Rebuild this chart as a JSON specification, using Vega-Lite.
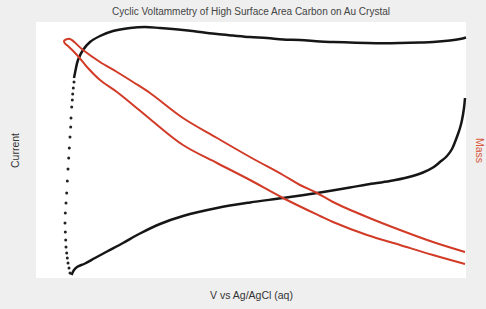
{
  "$schema": "https://vega.github.io/schema/vega-lite/v6.json",
  "autosize": {"type": "none"},
  "width": 430,
  "height": 256,
  "padding": {"left": 36, "top": 22, "right": 20, "bottom": 31},
  "background": "#efefef",
  "title": {"text": "Cyclic Voltammetry of High Surface Area Carbon on Au Crystal", "fontSize": 10, "font": "Liberation Sans", "fontWeight": "normal", "color": "#444444", "offset": 5},
  "config": {
    "view": {"fill": "#ffffff", "stroke": null},
    "axis": {"domain": false, "ticks": false, "labels": false, "grid": false, "titleFont": "Liberation Sans", "titleFontSize": 10.5, "titleFontWeight": "normal", "titleColor": "#333333"}
  },
  "datasets": {
    "current": [
      {"seg": "c", "k": 1, "v": 429, "current": 180},
      {"seg": "c", "k": 2, "v": 428, "current": 170},
      {"seg": "c", "k": 3, "v": 426, "current": 158},
      {"seg": "c", "k": 4, "v": 424, "current": 150},
      {"seg": "c", "k": 5, "v": 422, "current": 144},
      {"seg": "c", "k": 6, "v": 419, "current": 136},
      {"seg": "c", "k": 7, "v": 416, "current": 129},
      {"seg": "c", "k": 8, "v": 411, "current": 122},
      {"seg": "c", "k": 9, "v": 404, "current": 116},
      {"seg": "c", "k": 10, "v": 397, "current": 110.5},
      {"seg": "c", "k": 11, "v": 387, "current": 105.5},
      {"seg": "c", "k": 12, "v": 371, "current": 100.5},
      {"seg": "c", "k": 13, "v": 354, "current": 97},
      {"seg": "c", "k": 14, "v": 331, "current": 93.5},
      {"seg": "c", "k": 15, "v": 314, "current": 90.5},
      {"seg": "c", "k": 16, "v": 281, "current": 85},
      {"seg": "c", "k": 17, "v": 247, "current": 80},
      {"seg": "c", "k": 18, "v": 214, "current": 75.5},
      {"seg": "c", "k": 19, "v": 181, "current": 70},
      {"seg": "c", "k": 20, "v": 147, "current": 62},
      {"seg": "c", "k": 21, "v": 124, "current": 54},
      {"seg": "c", "k": 22, "v": 104, "current": 44.5},
      {"seg": "c", "k": 23, "v": 87, "current": 35},
      {"seg": "c", "k": 24, "v": 71, "current": 26.5},
      {"seg": "c", "k": 25, "v": 59, "current": 20},
      {"seg": "c", "k": 26, "v": 49, "current": 14.5},
      {"seg": "c", "k": 27, "v": 41, "current": 11},
      {"seg": "c", "k": 28, "v": 38, "current": 8},
      {"seg": "c", "k": 29, "v": 35.5, "current": 3},
      {"seg": "j", "k": 32, "v": 34, "current": 5},
      {"seg": "j", "k": 33, "v": 33, "current": 10},
      {"seg": "j", "k": 34, "v": 32, "current": 15},
      {"seg": "j", "k": 35, "v": 31.3, "current": 20},
      {"seg": "j", "k": 36, "v": 30.7, "current": 25},
      {"seg": "j", "k": 37, "v": 30, "current": 31},
      {"seg": "j", "k": 38, "v": 29.7, "current": 38},
      {"seg": "j", "k": 39, "v": 29.3, "current": 46},
      {"seg": "j", "k": 40, "v": 29, "current": 55},
      {"seg": "j", "k": 41, "v": 29.3, "current": 65},
      {"seg": "j", "k": 42, "v": 30, "current": 75},
      {"seg": "j", "k": 43, "v": 30.7, "current": 85},
      {"seg": "j", "k": 44, "v": 31.3, "current": 97},
      {"seg": "j", "k": 45, "v": 32, "current": 109},
      {"seg": "j", "k": 46, "v": 32.7, "current": 120},
      {"seg": "j", "k": 47, "v": 33.3, "current": 130},
      {"seg": "j", "k": 48, "v": 34, "current": 141},
      {"seg": "j", "k": 49, "v": 34.7, "current": 151},
      {"seg": "j", "k": 50, "v": 35, "current": 160},
      {"seg": "j", "k": 51, "v": 35.7, "current": 171},
      {"seg": "j", "k": 52, "v": 36.3, "current": 178},
      {"seg": "j", "k": 53, "v": 36.7, "current": 184},
      {"seg": "j", "k": 54, "v": 37.3, "current": 190},
      {"seg": "j", "k": 55, "v": 38, "current": 196},
      {"seg": "a", "k": 56, "v": 38, "current": 200},
      {"seg": "a", "k": 57, "v": 39, "current": 205},
      {"seg": "a", "k": 58, "v": 42, "current": 218},
      {"seg": "a", "k": 59, "v": 47, "current": 228},
      {"seg": "a", "k": 60, "v": 54, "current": 236},
      {"seg": "a", "k": 61, "v": 64, "current": 242},
      {"seg": "a", "k": 62, "v": 77, "current": 247},
      {"seg": "a", "k": 63, "v": 94, "current": 250},
      {"seg": "a", "k": 64, "v": 109, "current": 251},
      {"seg": "a", "k": 65, "v": 124, "current": 250},
      {"seg": "a", "k": 66, "v": 147, "current": 248},
      {"seg": "a", "k": 67, "v": 164, "current": 246},
      {"seg": "a", "k": 68, "v": 181, "current": 244},
      {"seg": "a", "k": 69, "v": 197, "current": 242.5},
      {"seg": "a", "k": 70, "v": 214, "current": 241},
      {"seg": "a", "k": 71, "v": 231, "current": 240},
      {"seg": "a", "k": 72, "v": 247, "current": 238.5},
      {"seg": "a", "k": 73, "v": 264, "current": 238},
      {"seg": "a", "k": 74, "v": 284, "current": 236.5},
      {"seg": "a", "k": 75, "v": 297, "current": 236},
      {"seg": "a", "k": 76, "v": 314, "current": 235.5},
      {"seg": "a", "k": 77, "v": 331, "current": 235},
      {"seg": "a", "k": 78, "v": 349, "current": 234.8},
      {"seg": "a", "k": 79, "v": 364, "current": 235},
      {"seg": "a", "k": 80, "v": 384, "current": 235.5},
      {"seg": "a", "k": 81, "v": 397, "current": 236},
      {"seg": "a", "k": 82, "v": 414, "current": 237.5},
      {"seg": "a", "k": 83, "v": 424, "current": 239},
      {"seg": "a", "k": 84, "v": 430, "current": 240.5}
    ],
    "mass": [
      {"k": 1, "v": 429, "mass": 26},
      {"k": 2, "v": 397, "mass": 36},
      {"k": 3, "v": 364, "mass": 48},
      {"k": 4, "v": 331, "mass": 61},
      {"k": 5, "v": 297, "mass": 76},
      {"k": 6, "v": 281, "mass": 85},
      {"k": 7, "v": 264, "mass": 93},
      {"k": 8, "v": 247, "mass": 103},
      {"k": 9, "v": 214, "mass": 121},
      {"k": 10, "v": 181, "mass": 140},
      {"k": 11, "v": 147, "mass": 160},
      {"k": 12, "v": 114, "mass": 185},
      {"k": 13, "v": 97, "mass": 196},
      {"k": 14, "v": 81, "mass": 206},
      {"k": 15, "v": 64, "mass": 216},
      {"k": 16, "v": 47, "mass": 228},
      {"k": 17, "v": 34, "mass": 239},
      {"k": 18, "v": 30, "mass": 238.5},
      {"k": 19, "v": 28, "mass": 237},
      {"k": 20, "v": 29, "mass": 234.5},
      {"k": 21, "v": 32, "mass": 232},
      {"k": 22, "v": 41, "mass": 223},
      {"k": 23, "v": 51, "mass": 211},
      {"k": 24, "v": 64, "mass": 198},
      {"k": 25, "v": 81, "mass": 186},
      {"k": 26, "v": 97, "mass": 173},
      {"k": 27, "v": 114, "mass": 159},
      {"k": 28, "v": 147, "mass": 133},
      {"k": 29, "v": 181, "mass": 115},
      {"k": 30, "v": 214, "mass": 98},
      {"k": 31, "v": 247, "mass": 80},
      {"k": 32, "v": 284, "mass": 62},
      {"k": 33, "v": 297, "mass": 56},
      {"k": 34, "v": 331, "mass": 43},
      {"k": 35, "v": 364, "mass": 33},
      {"k": 36, "v": 397, "mass": 23},
      {"k": 37, "v": 429, "mass": 14}
    ]
  },
  "layer": [
    {
      "data": {"name": "current"},
      "encoding": {
        "x": {"field": "v", "type": "quantitative", "scale": {"domain": [0, 430]}, "axis": {"title": "V vs Ag/AgCl (aq)", "titlePadding": 12}},
        "y": {"field": "current", "type": "quantitative", "scale": {"domain": [0, 256]}, "axis": {"title": "Current", "orient": "left", "titlePadding": 16}}
      },
      "layer": [
        {
          "transform": [{"filter": "datum.seg !== 'j'"}],
          "mark": {"type": "line", "color": "#161616", "strokeWidth": 2.5, "interpolate": "catmull-rom"},
          "encoding": {"detail": {"field": "seg"}, "order": {"field": "k", "type": "quantitative"}}
        },
        {
          "transform": [{"filter": "datum.seg === 'j'"}],
          "mark": {"type": "circle", "color": "#222222", "size": 9, "opacity": 1}
        }
      ]
    },
    {
      "data": {"name": "mass"},
      "mark": {"type": "line", "color": "#d13b27", "strokeWidth": 2, "interpolate": "catmull-rom"},
      "encoding": {
        "x": {"field": "v", "type": "quantitative", "scale": {"domain": [0, 430]}},
        "y": {"field": "mass", "type": "quantitative", "scale": {"domain": [0, 256]}, "axis": {"title": "Mass", "orient": "right", "titleColor": "#d9573f", "titlePadding": 7}},
        "order": {"field": "k", "type": "quantitative"}
      }
    }
  ],
  "resolve": {"scale": {"y": "independent"}, "axis": {"y": "independent"}}
}
